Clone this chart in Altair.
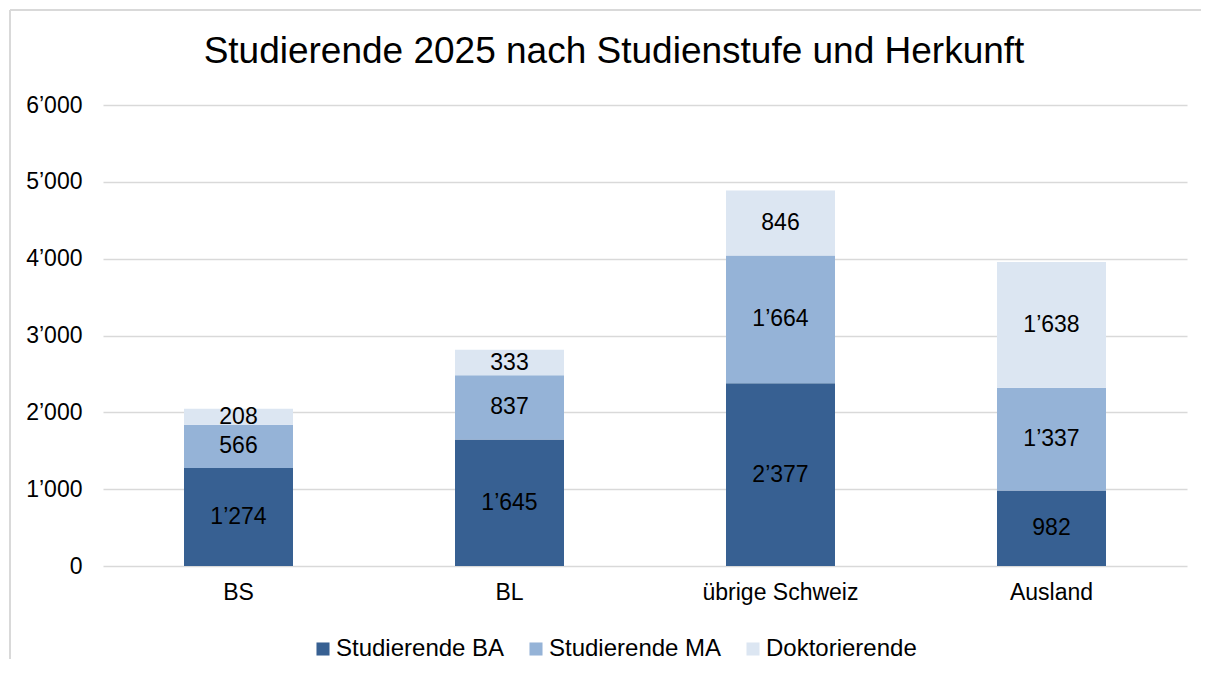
import altair as alt
import pandas as pd

categories = ["BS", "BL", "übrige Schweiz", "Ausland"]
series = ["Studierende BA", "Studierende MA", "Doktorierende"]
ba = [1274, 1645, 2377, 982]
ma = [566, 837, 1664, 1337]
dok = [208, 333, 846, 1638]
colors = ["#376092", "#95B3D7", "#DCE6F2"]
title_text = "Studierende 2025 nach Studienstufe und Herkunft"

rows = []
for i, c in enumerate(categories):
    for j, (s, vals) in enumerate(zip(series, [ba, ma, dok])):
        rows.append({"cat": c, "series": s, "order": j, "value": vals[i]})
df = pd.DataFrame(rows)

FONT = "Liberation Sans"
fmt = "replace(format(datum.value, ','), ',', '\u2019')"

x = alt.X("cat:N", sort=categories, title=None,
          scale=alt.Scale(paddingInner=0.6, paddingOuter=0.3),
          axis=alt.Axis(labelAngle=0, labelFontSize=23, labelColor="#000000",
                        labelFont=FONT, tickSize=0, domain=False, labelPadding=15))

bars = alt.Chart(df).mark_bar(size=109).encode(
    x=x,
    y=alt.Y("value:Q", stack="zero", title=None,
            scale=alt.Scale(domain=[0, 6000]),
            axis=alt.Axis(values=[0, 1000, 2000, 3000, 4000, 5000, 6000],
                          labelExpr=fmt, labelFontSize=23, labelColor="#000000",
                          labelFont=FONT, tickSize=0, domain=False, labelPadding=21,
                          gridColor="#d9d9d9", gridWidth=1.3)),
    color=alt.Color("series:N", sort=series,
                    scale=alt.Scale(domain=series, range=colors),
                    legend=alt.Legend(title=None, orient="none", direction="horizontal",
                                      legendX=208, legendY=532, symbolType="square",
                                      symbolSize=170, symbolStrokeWidth=0,
                                      labelFontSize=24, labelFont=FONT, labelColor="#000000",
                                      labelLimit=400,
                                      columnPadding=19, symbolOffset=0, labelOffset=1)),
    order=alt.Order("order:Q"),
)

labels = alt.Chart(df).transform_stack(
    stack="value", groupby=["cat"], as_=["y0", "y1"],
    sort=[alt.SortField("order", order="ascending")]
).transform_calculate(
    mid="(datum.y0 + datum.y1) / 2",
    lab="replace(format(datum.value, ','), ',', '\u2019')"
).mark_text(fontSize=23, font=FONT, color="#000000", baseline="middle").encode(
    x=alt.X("cat:N", sort=categories),
    y=alt.Y("mid:Q"),
    text="lab:N",
)

title = alt.Chart(pd.DataFrame({"t": [title_text]})).mark_text(
    fontSize=37, font=FONT, color="#000000", align="center", baseline="alphabetic"
).encode(x=alt.value(511), y=alt.value(-42), text="t:N")

frame_top = alt.Chart(df).mark_rule(color="#d9d9d9", strokeWidth=1.5).encode(
    x=alt.value(-93), x2=alt.value(1110), y=alt.value(-95))
frame_left = alt.Chart(df).mark_rule(color="#d9d9d9", strokeWidth=1.5).encode(
    x=alt.value(-93), y=alt.value(-95), y2=alt.value(554))

chart = alt.layer(frame_top, frame_left, title, bars, labels).properties(
    width=1084, height=461,
    padding={"left": 95, "top": 97, "right": 14, "bottom": 101},
    autosize=alt.AutoSizeParams(type="none"),
).configure_view(stroke=None)

chart.save("out.html", embed_options={"renderer": "svg", "actions": False})
